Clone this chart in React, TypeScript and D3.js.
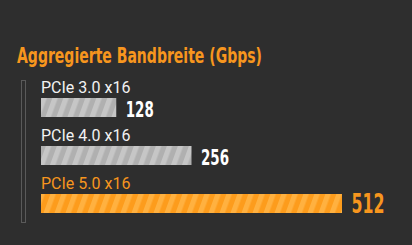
import React from "react";
import * as d3 from "d3";

const categories = ["PCIe 3.0 x16", "PCIe 4.0 x16", "PCIe 5.0 x16"];
const values = [128, 256, 512];
const highlight = [false, false, true];
const title = "Aggregierte Bandbreite (Gbps)";

const W = 412, H = 245;

export default function App() {
  const x = d3.scaleLinear().domain([0, 512]).range([41, 342]);
  const y = d3.scaleBand<string>().domain(categories).range([78, 222]).paddingInner(0).paddingOuter(0);
  const orange = "#f7961e";
  const condensed = "'DejaVu Sans', sans-serif";
  return (
    <svg width={W} height={H} style={{ position: "absolute", left: 0, top: 0, background: "#2e2e2e" }}>
      <defs>
        <pattern id="pg" width="11" height="20" patternUnits="userSpaceOnUse" patternTransform="skewX(-20)">
          <rect width="11" height="20" fill="#b0b0b0" />
          <rect width="5.5" height="20" fill="#c6c6c6" />
        </pattern>
        <pattern id="po" width="11" height="20" patternUnits="userSpaceOnUse" patternTransform="skewX(-20)">
          <rect width="11" height="20" fill="#fd9c1c" />
          <rect width="5.5" height="20" fill="#ffb140" />
        </pattern>
      </defs>
      <rect x={0} y={0} width={W} height={H} fill="#2e2e2e" />
      <text x={17} y={63} fill={orange} fontFamily={condensed} fontStretch="condensed" fontWeight="bold" fontSize={22}
        textLength={245} lengthAdjust="spacingAndGlyphs">{title}</text>
      <rect x={21.5} y={80.5} width={4} height={142} fill="none" stroke="#5a5a5a" strokeWidth={1} />
      {categories.map((c, i) => {
        const top = y(c)!;
        const barY = top + 20;
        const hl = highlight[i];
        const big = hl;
        return (
          <g key={c}>
            <text x={41} y={top + 15} fill={hl ? orange : "#f2f2f2"} fontFamily="Roboto, sans-serif" fontSize={16}>{c}</text>
            <rect x={x(0)} y={barY} width={x(values[i]) - x(0)} height={19} fill={hl ? "url(#po)" : "url(#pg)"} />
            <text x={x(values[i]) + 9.5} y={barY + 19} fill={hl ? orange : "#ffffff"} fontFamily={condensed}
              fontStretch="condensed" fontWeight="bold" fontSize={big ? 27 : 20.5}
              textLength={big ? 33 : 28} lengthAdjust="spacingAndGlyphs">{values[i]}</text>
          </g>
        );
      })}
    </svg>
  );
}
